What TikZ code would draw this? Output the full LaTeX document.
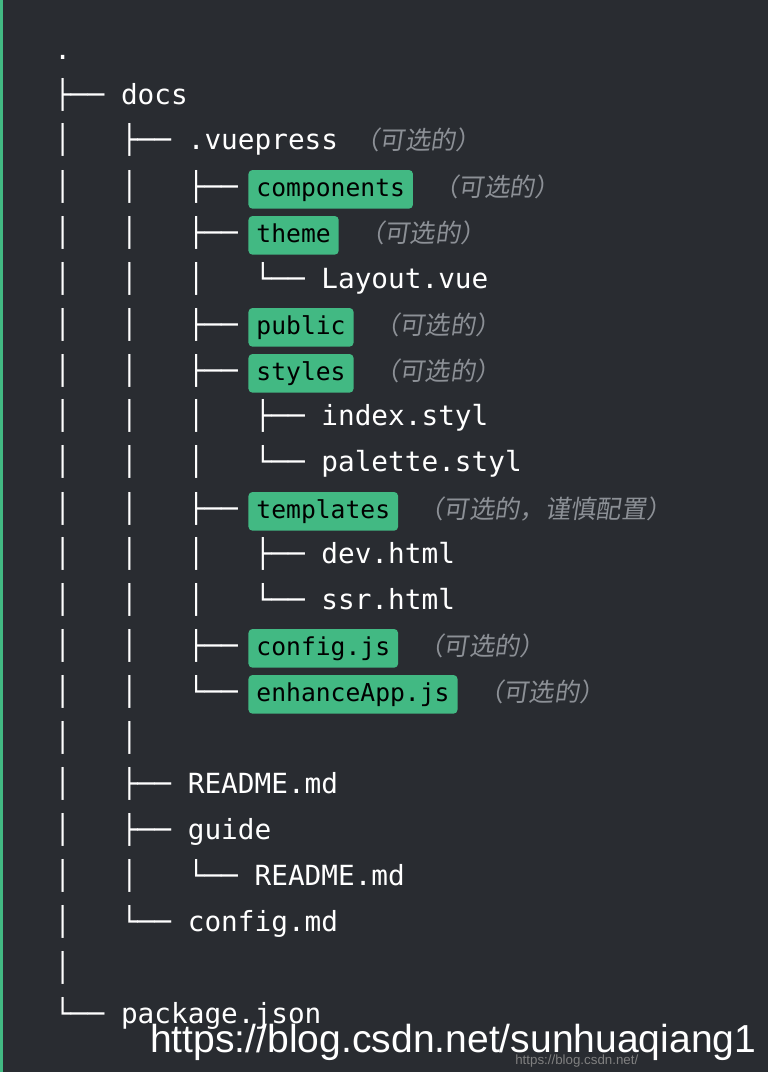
\documentclass[tikz,border=0pt]{standalone}
\usepackage{fontspec}
\setmainfont{Liberation Sans}
\newfontfamily\mono{DejaVu Sans Mono}
\newfontfamily\cjk[FakeSlant=0.15]{Noto Sans CJK SC}
\definecolor{bg}{HTML}{292C31}
\definecolor{vgreen}{HTML}{42B983}
\definecolor{note}{HTML}{8C9096}
\begin{document}
\begin{tikzpicture}[x=0.75pt,y=-0.75pt,
  pre/.style={anchor=base west,inner sep=0pt,text=white,font=\mono\fontsize{20.8}{22}\selectfont},
  tag/.style={anchor=base west,inner xsep=6pt,inner ysep=5.5pt,fill=vgreen,rounded corners=3pt,text=black,
    text height=14pt,text depth=4pt,xshift=7.5pt,font=\mono\fontsize{18.5}{20}\selectfont},
  nt/.style={anchor=base west,inner sep=0pt,text=note,xshift=15pt,font=\cjk\fontsize{19}{20}\selectfont}]
\fill[bg] (0,0) rectangle (768,1072);
\useasboundingbox (0,0) rectangle (768,1072);
\fill[vgreen] (0,0) rectangle (3,1072);
\def\b{9}
\node[pre] (r0) at (54,50+\b) {.};
\node[pre] (r1) at (54,95+\b) {├──~docs};
\node[pre] (r2) at (54,140+\b) {│~~~├──~.vuepress};
\node[nt,xshift=-3pt] (n2) at (r2.base east) {（可选的）};
\node[pre] (r3) at (54,187+\b) {│~~~│~~~├──};
\node[tag] (t3) at (r3.base east) {components};
\node[nt] (n3) at (t3.base east) {（可选的）};
\node[pre] (r4) at (54,233+\b) {│~~~│~~~├──};
\node[tag] (t4) at (r4.base east) {theme};
\node[nt] (n4) at (t4.base east) {（可选的）};
\node[pre] (r5) at (54,279+\b) {│~~~│~~~│~~~└──~Layout.vue};
\node[pre] (r6) at (54,325+\b) {│~~~│~~~├──};
\node[tag] (t6) at (r6.base east) {public};
\node[nt] (n6) at (t6.base east) {（可选的）};
\node[pre] (r7) at (54,371+\b) {│~~~│~~~├──};
\node[tag] (t7) at (r7.base east) {styles};
\node[nt] (n7) at (t7.base east) {（可选的）};
\node[pre] (r8) at (54,416+\b) {│~~~│~~~│~~~├──~index.styl};
\node[pre] (r9) at (54,462+\b) {│~~~│~~~│~~~└──~palette.styl};
\node[pre] (r10) at (54,509+\b) {│~~~│~~~├──};
\node[tag] (t10) at (r10.base east) {templates};
\node[nt] (n10) at (t10.base east) {（可选的，谨慎配置）};
\node[pre] (r11) at (54,554+\b) {│~~~│~~~│~~~├──~dev.html};
\node[pre] (r12) at (54,600+\b) {│~~~│~~~│~~~└──~ssr.html};
\node[pre] (r13) at (54,646+\b) {│~~~│~~~├──};
\node[tag] (t13) at (r13.base east) {config.js};
\node[nt] (n13) at (t13.base east) {（可选的）};
\node[pre] (r14) at (54,692+\b) {│~~~│~~~└──};
\node[tag] (t14) at (r14.base east) {enhanceApp.js};
\node[nt] (n14) at (t14.base east) {（可选的）};
\node[pre] (r15) at (54,738+\b) {│~~~│};
\node[pre] (r16) at (54,784+\b) {│~~~├──~README.md};
\node[pre] (r17) at (54,830+\b) {│~~~├──~guide};
\node[pre] (r18) at (54,876+\b) {│~~~│~~~└──~README.md};
\node[pre] (r19) at (54,922+\b) {│~~~└──~config.md};
\node[pre] (r20) at (54,968+\b) {│};
\node[pre] (r21) at (54,1014+\b) {└──~package.json};
\node[anchor=base west,inner sep=0pt,text=white,font=\fontsize{29.3}{31}\selectfont] (url) at (150,1052) {https://blog.csdn.net/sunhuaqiang1};
\node[anchor=base west,inner sep=0pt,text=gray,font=\fontsize{10}{12}\selectfont] (wm) at (515,1064) {https://blog.csdn.net/};
\end{tikzpicture}
\end{document}
